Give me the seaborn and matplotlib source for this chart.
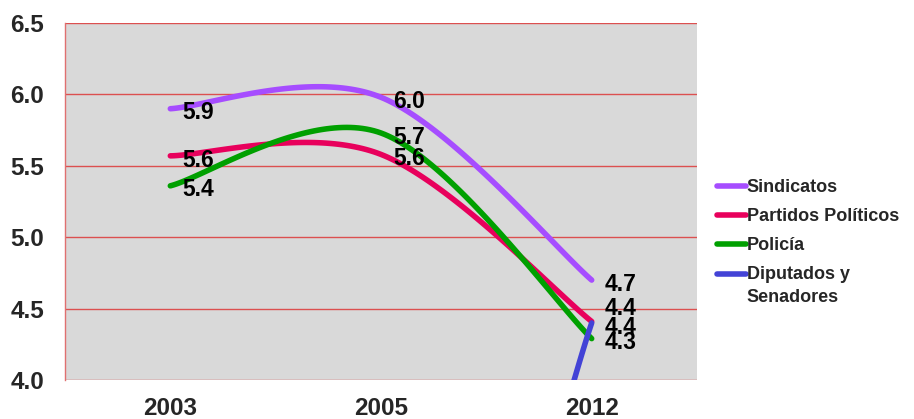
import numpy as np
import pandas as pd
import matplotlib
matplotlib.use("Agg")
import matplotlib.pyplot as plt
import seaborn as sns

years = ["2003", "2005", "2012"]
series_names = ["Sindicatos", "Partidos Políticos", "Policía", "Diputados y\nSenadores"]
sindicatos = [5.9, 5.98, 4.7]
partidos = [5.57, 5.58, 4.41]
policia = [5.36, 5.73, 4.29]
diputados = [0.0, 0.0, 4.4]
yticks = [4.0, 4.5, 5.0, 5.5, 6.0, 6.5]
colors = ["#A64DFF", "#E8005C", "#00A000", "#4343D6"]

all_values = [sindicatos, partidos, policia, diputados]


def smooth(vals, n=60):
    """Excel-like smoothed line (Catmull-Rom Bezier) through the points."""
    x = np.arange(len(vals), dtype=float)
    y = np.asarray(vals, dtype=float)
    P = np.column_stack([x, y])
    out = []
    for i in range(len(P) - 1):
        p0 = P[i - 1] if i > 0 else P[i]
        p1 = P[i]
        p2 = P[i + 1]
        p3 = P[i + 2] if i + 2 < len(P) else P[i + 1]
        c1 = p1 + (p2 - p0) / 6.0
        c2 = p2 - (p3 - p1) / 6.0
        t = np.linspace(0, 1, n)[:, None]
        b = ((1 - t) ** 3) * p1 + 3 * ((1 - t) ** 2) * t * c1 + 3 * (1 - t) * t ** 2 * c2 + t ** 3 * p2
        out.append(b if i == 0 else b[1:])
    return np.vstack(out)


rows = []
for name, vals in zip(series_names, all_values):
    pts = smooth(vals)
    for k, (xx, yy) in enumerate(pts):
        rows.append({"x": xx, "y": yy, "serie": name, "order": k})
df = pd.DataFrame(rows)

sns.set_theme(style="white")
plt.rcParams["font.family"] = ["Liberation Sans", "DejaVu Sans"]
plt.rcParams["font.weight"] = "bold"

fig = plt.figure(figsize=(9.14, 4.19), dpi=100)
ax = fig.add_axes([0.0711, 0.093, 0.6915, 0.852])
ax.set_facecolor("#D9D9D9")

sns.lineplot(data=df, x="x", y="y", hue="serie", hue_order=series_names,
             palette=colors, sort=False, estimator=None, linewidth=4.0,
             solid_capstyle="round", ax=ax, zorder=3)

ax.set_xlim(-0.5, 2.5)
ax.set_ylim(4.0, 6.5)
ax.set_yticks(yticks)
ax.set_yticklabels([f"{v:.1f}" for v in yticks], fontsize=17.5, fontweight="bold")
ax.set_xticks(range(len(years)))
ax.set_xticklabels(years, fontsize=17.5, fontweight="bold")
ax.tick_params(axis="y", length=0, pad=15)
ax.tick_params(axis="x", length=0, pad=12)
ax.set_xlabel("")
ax.set_ylabel("")
for v in yticks:
    ax.axhline(v, color="#DC5050", linewidth=1.0, zorder=1)
for s in ["top", "right", "bottom"]:
    ax.spines[s].set_visible(False)
ax.spines["left"].set_color("#E07070")
ax.spines["left"].set_linewidth(1.0)

# data labels
extra = {(1, 2): 12}
for si, vals in enumerate(all_values):
    for xi, v in enumerate(vals):
        if v < 4.0:
            continue
        dy = -3 + extra.get((si, xi), 0)
        ax.annotate(f"{v:.1f}", (xi, v), xytext=(9, dy), textcoords="offset points",
                    ha="left", va="center", fontsize=16.5, fontweight="bold",
                    color="black", zorder=5, annotation_clip=False)

handles, labels = ax.get_legend_handles_labels()
for h in handles:
    h.set_linewidth(4)
    h.set_solid_capstyle("round")
leg = ax.legend(handles, labels, loc="center left", bbox_to_anchor=(1.006, 0.385),
                frameon=False, handlelength=1.6, handletextpad=0.05,
                labelspacing=0.66, prop={"weight": "bold", "size": 13})
for t in leg.get_texts():
    t.set_linespacing(1.45)
lh = leg.legend_handles[3]
lh.set_ydata(np.asarray(lh.get_ydata()) + 9)

fig.savefig("out.png", dpi=100)
